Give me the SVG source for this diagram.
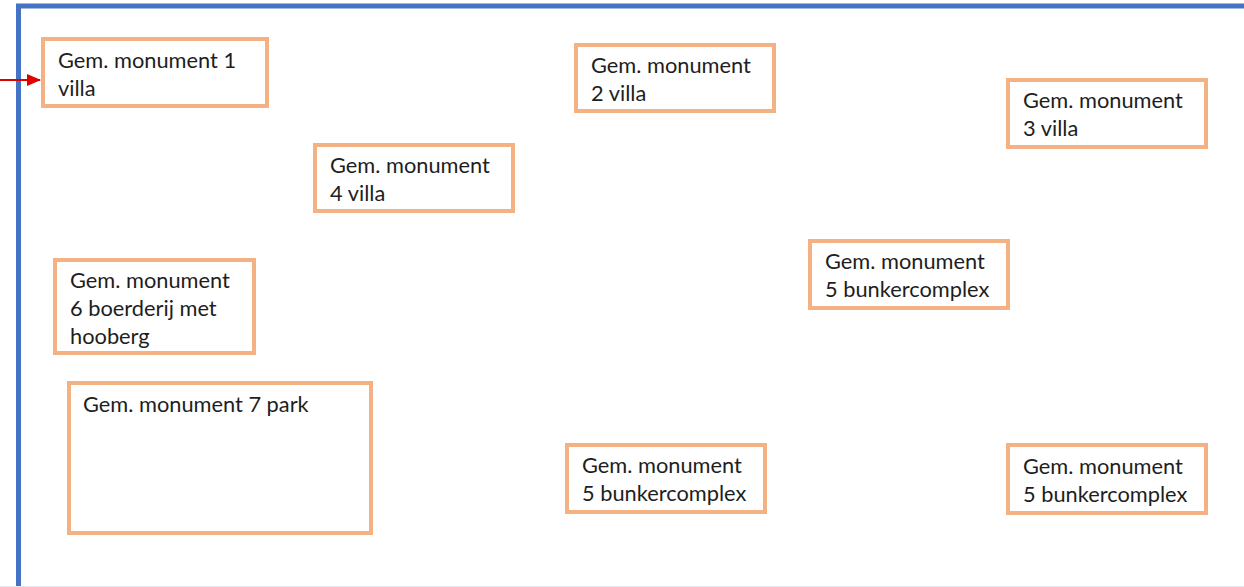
<svg xmlns="http://www.w3.org/2000/svg" width="1244" height="587" viewBox="0 0 1244 587">
<style>
.box{fill:#fff;stroke:#F4B183;stroke-width:4}
.t{font-family:Lato,"Liberation Sans",sans-serif;font-size:21.8px;fill:#1e1e1e}
.frame{fill:none;stroke:#4472C4;stroke-width:5}
</style>
<defs>
<marker id="ah" markerWidth="14" markerHeight="12" refX="13" refY="6" orient="auto" markerUnits="userSpaceOnUse">
<path d="M0,0 L14,6 L0,12 z" fill="#E00000"/>
</marker>
</defs>
<rect width="1244" height="587" fill="#fff"/>
<path class="frame" d="M18.5,587 V6 H1244"/>
<line x1="0" y1="586.5" x2="1244" y2="586.5" stroke="#E4E8F0" stroke-width="1"/>
<g id="connectors">
<line x1="0" y1="80" x2="40" y2="80" stroke="#E00000" stroke-width="2" marker-end="url(#ah)"/>
</g>
<g id="n1"><rect class="box" x="43" y="39" width="224" height="67"/><text class="t" x="58" y="68">Gem. monument 1</text><text class="t" x="58" y="96">villa</text></g>
<g id="n2"><rect class="box" x="576" y="45" width="198" height="66"/><text class="t" x="591" y="73">Gem. monument</text><text class="t" x="591" y="101">2 villa</text></g>
<g id="n3"><rect class="box" x="1008" y="80" width="198" height="67"/><text class="t" x="1023" y="108">Gem. monument</text><text class="t" x="1023" y="136">3 villa</text></g>
<g id="n4"><rect class="box" x="315" y="145" width="198" height="66"/><text class="t" x="330" y="173">Gem. monument</text><text class="t" x="330" y="201">4 villa</text></g>
<g id="n5a"><rect class="box" x="810" y="241" width="198" height="67"/><text class="t" x="825" y="269">Gem. monument</text><text class="t" x="825" y="297">5 bunkercomplex</text></g>
<g id="n6"><rect class="box" x="55" y="260" width="199" height="93"/><text class="t" x="70" y="288">Gem. monument</text><text class="t" x="70" y="316">6 boerderij met</text><text class="t" x="70" y="344">hooberg</text></g>
<g id="n7"><rect class="box" x="69" y="383" width="302" height="150"/><text class="t" x="83" y="412">Gem. monument 7 park</text></g>
<g id="n5b"><rect class="box" x="567" y="445" width="198" height="67"/><text class="t" x="582" y="473">Gem. monument</text><text class="t" x="582" y="501">5 bunkercomplex</text></g>
<g id="n5c"><rect class="box" x="1008" y="445" width="198" height="68"/><text class="t" x="1023" y="474">Gem. monument</text><text class="t" x="1023" y="502">5 bunkercomplex</text></g>
</svg>
